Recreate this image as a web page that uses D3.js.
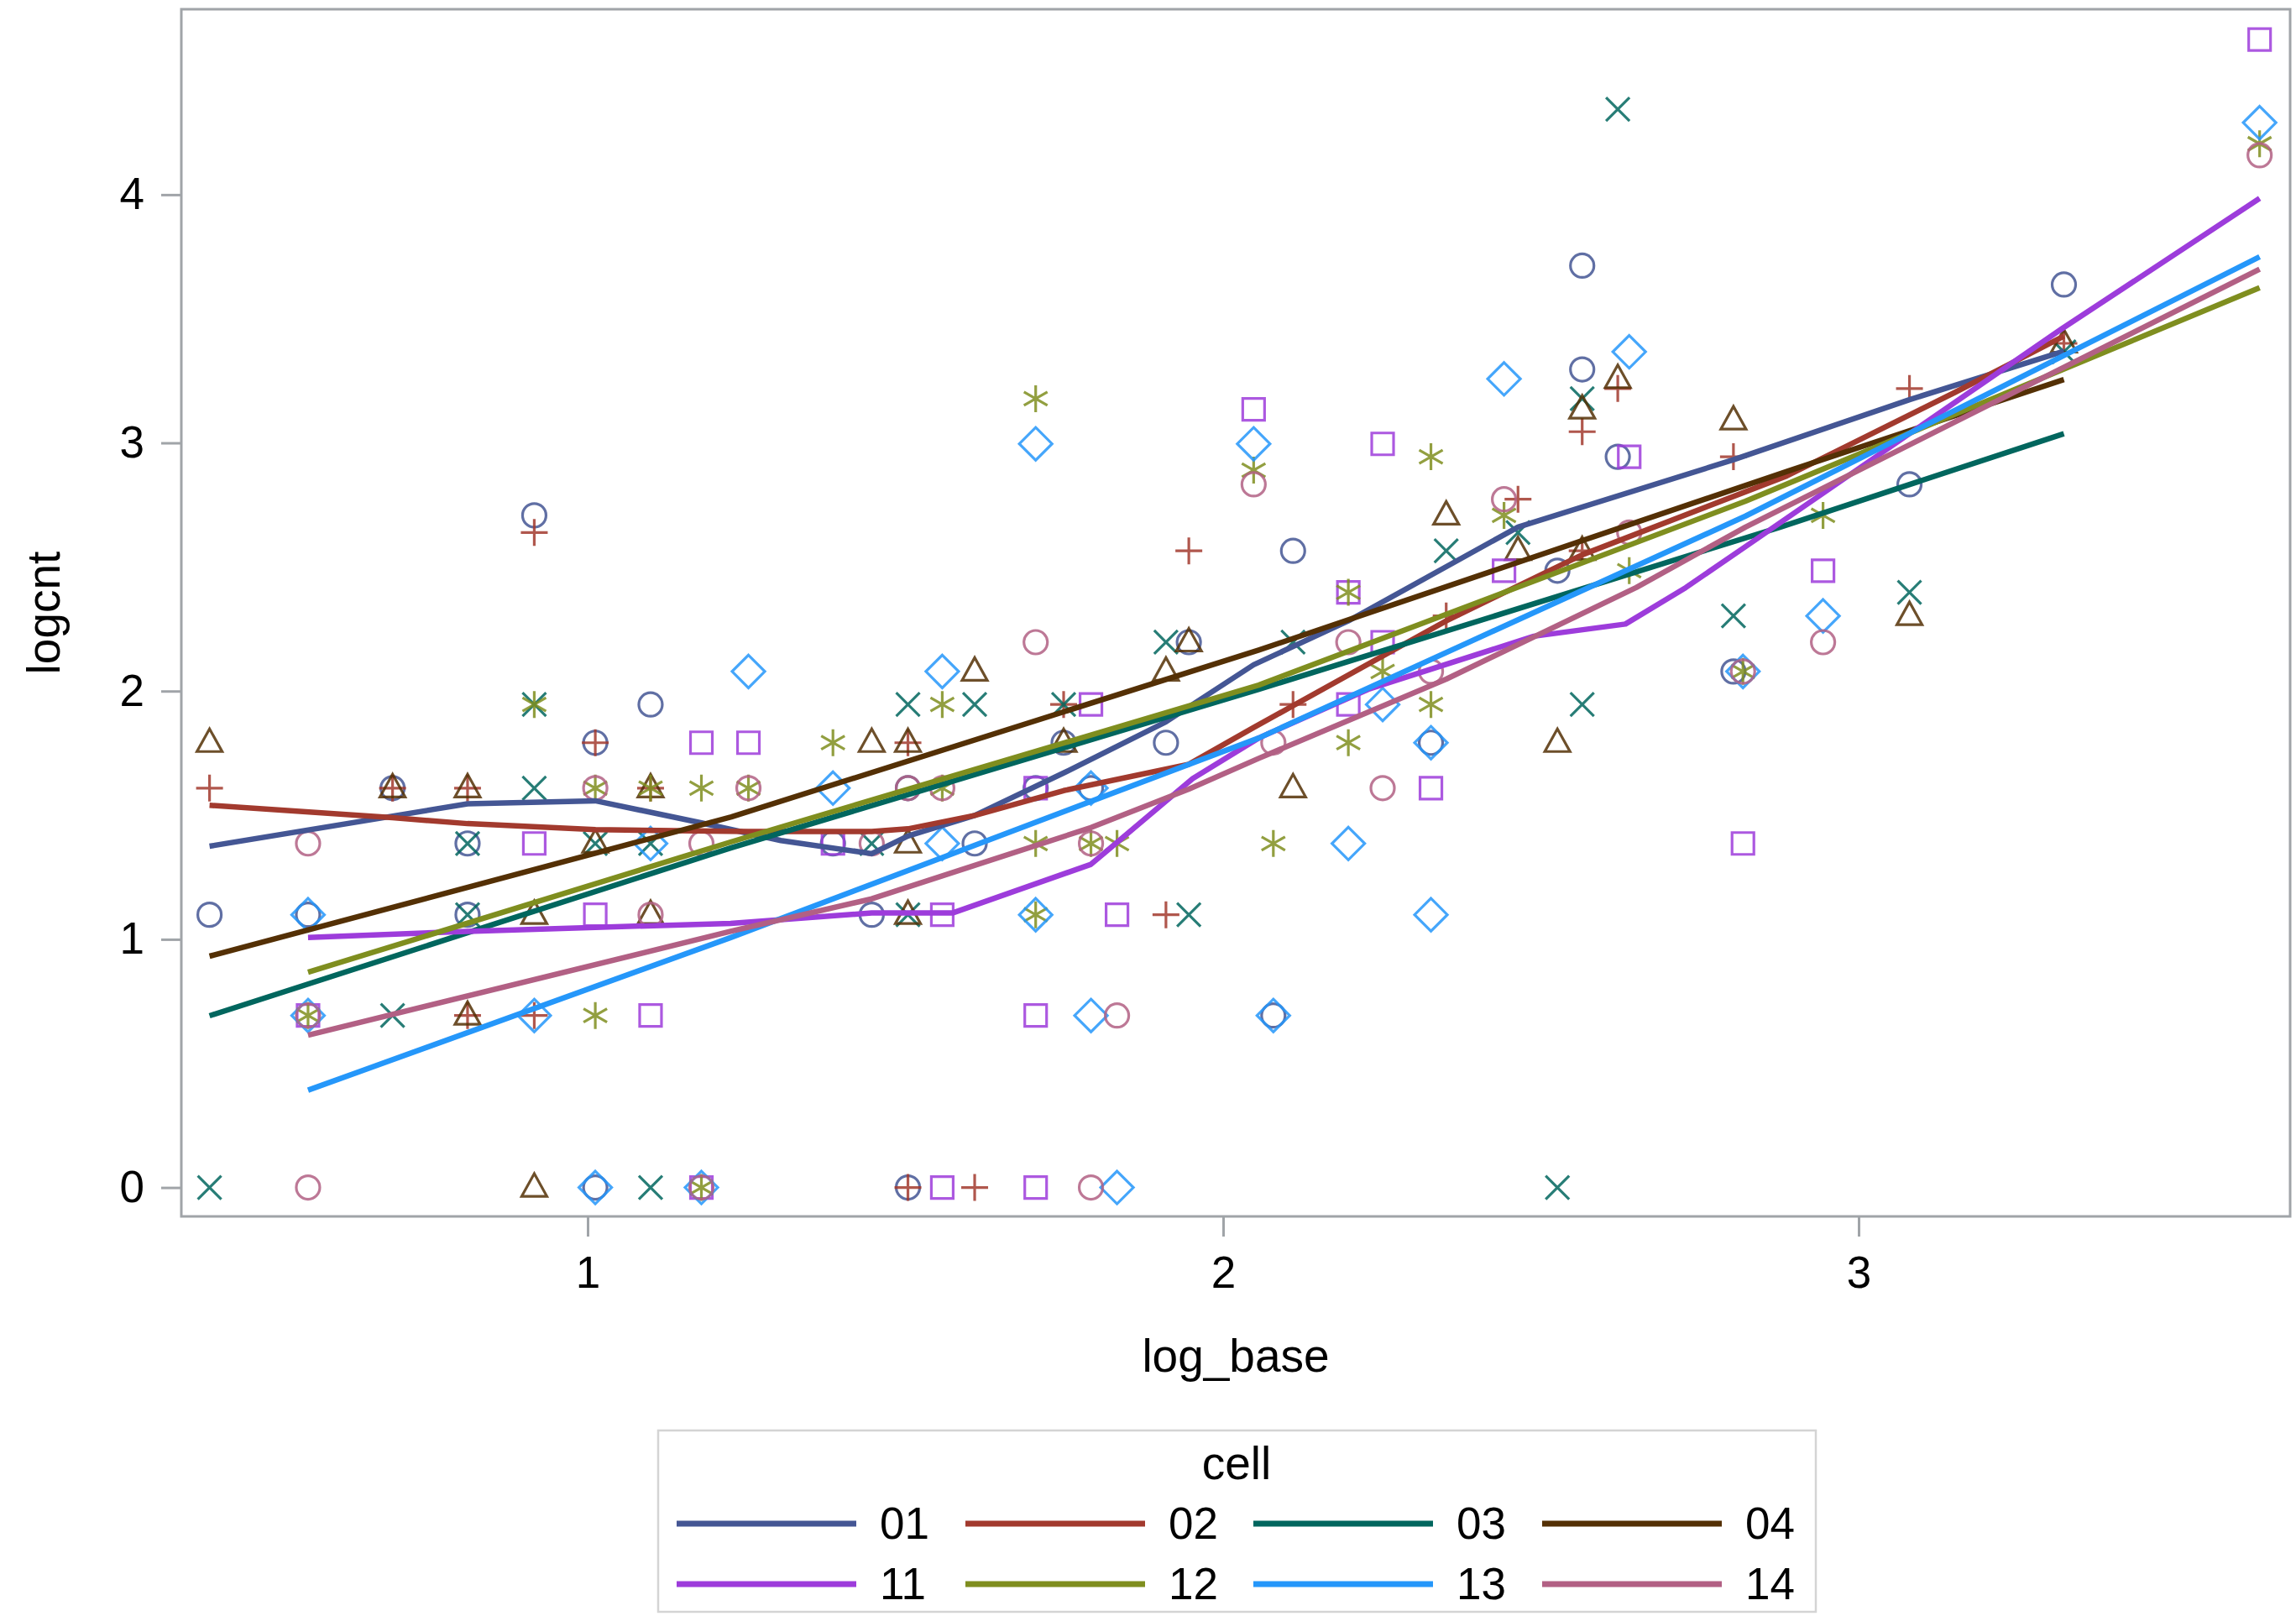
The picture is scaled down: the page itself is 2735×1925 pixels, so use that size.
<!DOCTYPE html>
<html><head><meta charset="utf-8">
<script src="https://cdn.jsdelivr.net/npm/d3@7"></script>
<style>html,body{margin:0;padding:0;background:#fff;} svg{display:block;}</style>
</head><body>
<svg id="chart" width="2735" height="1925"></svg>
<script>
// ---------- data ----------
const cellNames = ["01","02","03","04","11","12","13","14"];
const cellColors = ["#445694","#A23A2E","#01665E","#543005","#9D3CDB","#7F8E1F","#2597FA","#B26084"];
const cellMarkers = ["circle","plus","x","triangle","square","asterisk","diamond","circle"];
const xTickValues = [1,2,3];
const yTickValues = [0,1,2,3,4];
const xTitle = "log_base", yTitle = "logcnt", legendTitle = "cell";

const pts01 = [[0.405,1.099],[0.560,1.099],[0.693,1.609],[0.811,1.386],[0.811,1.099],[0.916,2.708],[1.012,1.792],[1.012,0],[1.099,1.946],[1.386,1.386],[1.447,1.099],[1.504,1.609],[1.504,0],[1.609,1.386],[1.705,1.609],[1.749,1.792],[1.792,1.609],[1.910,1.792],[1.946,2.197],[2.079,0.693],[2.110,2.565],[2.327,1.792],[2.526,2.485],[2.565,3.714],[2.565,3.296],[2.621,2.944],[2.803,2.079],[3.080,2.833],[3.323,3.638]];
const pts02 = [[0.405,1.609],[0.693,1.609],[0.811,1.609],[0.811,0.693],[0.916,2.639],[0.916,0.693],[1.012,1.792],[1.099,1.609],[1.504,1.792],[1.504,0],[1.609,0],[1.749,1.946],[1.910,1.099],[1.946,2.565],[2.110,1.946],[2.351,2.303],[2.464,2.773],[2.565,3.045],[2.565,2.565],[2.621,3.219],[2.803,2.944],[3.080,3.219],[3.323,3.401]];
const pts03 = [[0.405,0],[0.693,0.693],[0.811,1.386],[0.811,1.099],[0.916,1.946],[0.916,1.609],[1.012,1.386],[1.099,1.386],[1.099,0],[1.447,1.386],[1.504,1.946],[1.504,1.099],[1.609,1.946],[1.749,1.946],[1.910,2.197],[1.946,1.099],[2.110,2.197],[2.351,2.565],[2.464,2.639],[2.526,0],[2.565,3.178],[2.565,1.946],[2.621,4.344],[2.803,2.303],[3.080,2.398],[3.323,3.367]];
const pts04 = [[0.405,1.792],[0.693,1.609],[0.811,1.609],[0.811,0.693],[0.916,1.099],[0.916,0],[1.012,1.386],[1.099,1.609],[1.099,1.099],[1.447,1.792],[1.504,1.792],[1.504,1.386],[1.504,1.099],[1.609,2.079],[1.749,1.792],[1.910,2.079],[1.946,2.197],[2.110,1.609],[2.351,2.708],[2.464,2.565],[2.526,1.792],[2.565,3.135],[2.565,2.565],[2.621,3.258],[2.803,3.091],[3.080,2.303],[3.323,3.401]];
const pts11 = [[0.560,0.693],[0.916,1.386],[1.012,1.099],[1.099,0.693],[1.179,1.792],[1.179,0],[1.253,1.792],[1.386,1.386],[1.558,1.099],[1.558,0],[1.705,1.609],[1.705,0.693],[1.705,0],[1.792,1.946],[1.833,1.099],[2.048,3.135],[2.197,2.398],[2.197,1.946],[2.251,2.197],[2.251,2.996],[2.327,1.609],[2.442,2.485],[2.639,2.944],[2.818,1.386],[2.944,2.485],[3.631,4.625]];
const pts12 = [[0.560,0.693],[0.916,1.946],[1.012,1.609],[1.012,0.693],[1.099,1.609],[1.179,1.609],[1.179,0],[1.253,1.609],[1.386,1.792],[1.558,1.946],[1.558,1.609],[1.705,3.178],[1.705,1.386],[1.705,1.099],[1.792,1.386],[1.833,1.386],[2.048,2.890],[2.079,1.386],[2.197,2.398],[2.197,1.792],[2.251,2.079],[2.327,2.944],[2.327,1.946],[2.442,2.708],[2.639,2.485],[2.818,2.079],[2.944,2.708],[3.631,4.205]];
const pts13 = [[0.560,1.099],[0.560,0.693],[0.916,0.693],[1.012,0],[1.099,1.386],[1.179,0],[1.253,2.079],[1.386,1.609],[1.558,2.079],[1.558,1.386],[1.705,2.996],[1.705,1.099],[1.792,1.609],[1.792,0.693],[1.833,0],[2.048,2.996],[2.079,0.693],[2.197,1.386],[2.251,1.946],[2.327,1.792],[2.327,1.099],[2.442,3.258],[2.639,3.367],[2.818,2.079],[2.944,2.303],[3.631,4.290]];
const pts14 = [[0.560,1.386],[0.560,0.693],[0.560,0],[1.012,1.609],[1.099,1.099],[1.179,1.386],[1.179,0],[1.253,1.609],[1.447,1.386],[1.504,1.609],[1.558,1.609],[1.705,2.197],[1.792,1.386],[1.792,0],[1.833,0.693],[2.048,2.833],[2.079,1.792],[2.197,2.197],[2.251,1.609],[2.327,2.079],[2.442,2.773],[2.639,2.639],[2.818,2.079],[2.944,2.197],[3.631,4.159]];

const fit01 = [[0.405,1.375],[0.811,1.546],[1.012,1.558],[1.179,1.469],[1.304,1.398],[1.447,1.345],[1.504,1.416],[1.609,1.499],[1.749,1.670],[1.910,1.876],[2.048,2.106],[2.197,2.283],[2.464,2.661],[2.803,2.932],[3.080,3.174],[3.323,3.369]];
const fit02 = [[0.405,1.540],[0.693,1.490],[0.811,1.466],[1.012,1.442],[1.253,1.434],[1.447,1.434],[1.504,1.445],[1.609,1.499],[1.749,1.599],[1.946,1.705],[2.048,1.853],[2.110,1.941],[2.351,2.283],[2.565,2.549],[2.887,2.867],[3.152,3.204],[3.323,3.430]];
const fit03 = [[0.405,0.692],[1.225,1.368],[2.056,2.007],[2.877,2.661],[3.323,3.037]];
const fit04 = [[0.405,0.932],[1.226,1.493],[2.056,2.165],[2.887,2.885],[3.323,3.255]];
const fit11 = [[0.560,1.007],[0.811,1.032],[1.012,1.048],[1.225,1.064],[1.447,1.106],[1.574,1.106],[1.792,1.302],[1.952,1.647],[2.056,1.811],[2.228,2.007],[2.489,2.221],[2.633,2.270],[2.728,2.417],[2.822,2.582],[3.320,3.460],[3.631,3.985]];
const fit12 = [[0.560,0.867],[1.225,1.392],[2.056,2.024],[2.822,2.765],[3.631,3.625]];
const fit13 = [[0.560,0.392],[1.225,1.007],[2.056,1.811],[2.822,2.705],[3.631,3.750]];
const fit14 = [[0.560,0.614],[1.225,1.032],[1.447,1.163],[1.792,1.450],[1.946,1.605],[2.056,1.729],[2.351,2.048],[2.650,2.417],[2.822,2.661],[3.631,3.700]];

const pointSets = [pts01,pts02,pts03,pts04,pts11,pts12,pts13,pts14];
const fitSets = [fit01,fit02,fit03,fit04,fit11,fit12,fit13,fit14];

// ---------- layout ----------
const W = 2735, H = 1925;
const plot = {left:216, right:2728, top:11, bottom:1449};
const FONT = "'Liberation Sans', Arial, sans-serif";

const svg = d3.select("#chart");
svg.append("rect").attr("width",W).attr("height",H).attr("fill","#fff");

const x = d3.scaleLinear().domain([0.3606, 3.679]).range([plot.left, plot.right]);
const y = d3.scaleLinear().domain([-0.1164, 4.747]).range([plot.bottom, plot.top]);

const markerPaths = {
  circle: "M14,0A14,14 0 1,1 -14,0A14,14 0 1,1 14,0Z",
  square: "M-13,-13H13V13H-13Z",
  triangle: "M0,-16.5L15,10.5H-15Z",
  diamond: "M0,-19.5L19.5,0L0,19.5L-19.5,0Z",
  plus: "M-16,0H16M0,-16V16",
  x: "M-14,-14L14,14M14,-14L-14,14",
  asterisk: "M0,-16V16M-14,-8L14,8M-14,8L14,-8"
};

// axes
const gx = svg.append("g").attr("transform",`translate(0,${plot.bottom})`)
  .call(d3.axisBottom(x).tickValues(xTickValues).tickFormat(d3.format("d")).tickSize(24).tickPadding(23));
const gy = svg.append("g").attr("transform",`translate(${plot.left},0)`)
  .call(d3.axisLeft(y).tickValues(yTickValues).tickFormat(d3.format("d")).tickSize(24).tickPadding(20));
[gx,gy].forEach(g=>{
  g.select(".domain").remove();
  g.selectAll(".tick line").attr("stroke","#a0a4a8").attr("stroke-width",3);
  g.selectAll(".tick text").attr("fill","#000").style("font-family",FONT).style("font-size","53px");
});

// points
const series = cellNames.map((c,i)=>({name:c,color:cellColors[i],marker:cellMarkers[i],pts:pointSets[i],fit:fitSets[i]}));
const gPts = svg.append("g");
series.forEach(s=>{
  gPts.selectAll(null).data(s.pts).enter().append("path")
    .attr("d", markerPaths[s.marker])
    .attr("transform", d=>`translate(${x(d[0])},${y(d[1])})`)
    .attr("fill","none").attr("stroke", s.color).attr("stroke-width",3.2).attr("stroke-opacity",0.85);
});

// fit lines
const line = d3.line().x(d=>x(d[0])).y(d=>y(d[1]));
const gLines = svg.append("g");
series.forEach(s=>{
  gLines.append("path").datum(s.fit).attr("d",line)
    .attr("fill","none").attr("stroke",s.color).attr("stroke-width",6.5).attr("stroke-linejoin","round");
});

// frame
svg.append("rect").attr("x",plot.left).attr("y",plot.top)
  .attr("width",plot.right-plot.left).attr("height",plot.bottom-plot.top)
  .attr("fill","none").attr("stroke","#a0a4a8").attr("stroke-width",3);

// axis titles
svg.append("text").attr("x",(plot.left+plot.right)/2).attr("y",1634)
  .attr("text-anchor","middle").style("font-family",FONT).style("font-size","55px").attr("fill","#000").text(xTitle);
svg.append("text").attr("transform",`translate(71,${(plot.top+plot.bottom)/2}) rotate(-90)`)
  .attr("text-anchor","middle").style("font-family",FONT).style("font-size","55px").attr("fill","#000").text(yTitle);

// legend
const lg = svg.append("g");
lg.append("rect").attr("x",784).attr("y",1704).attr("width",1379).attr("height",216)
  .attr("fill","#fff").attr("stroke","#d4d4d4").attr("stroke-width",2.5);
lg.append("text").attr("x",1473).attr("y",1762).attr("text-anchor","middle")
  .style("font-family",FONT).style("font-size","55px").attr("fill","#000").text(legendTitle);
const colX = [806, 1150, 1493, 1837];
const rowY = [1815, 1887];
series.forEach((s,i)=>{
  const cx = colX[i%4], cy = rowY[Math.floor(i/4)];
  lg.append("line").attr("x1",cx).attr("x2",cx+214).attr("y1",cy).attr("y2",cy)
    .attr("stroke",s.color).attr("stroke-width",7);
  lg.append("text").attr("x",cx+242).attr("y",cy+18)
    .style("font-family",FONT).style("font-size","53px").attr("fill","#000").text(s.name);
});
</script>
</body></html>
